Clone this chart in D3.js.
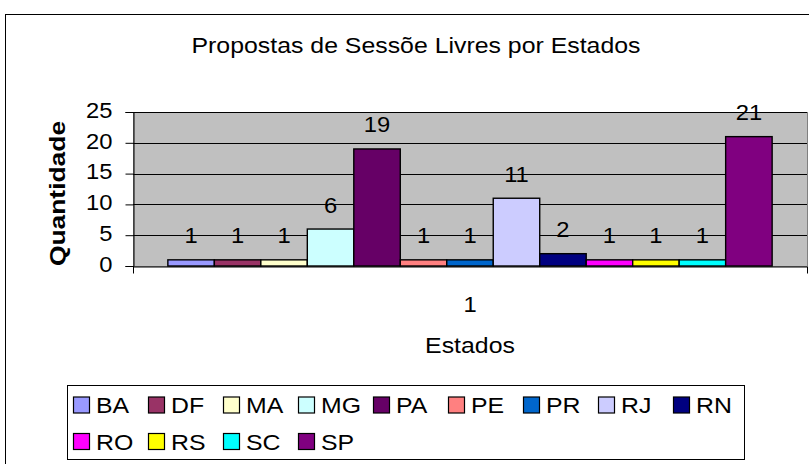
<!DOCTYPE html>
<html>
<head>
<meta charset="utf-8">
<script src="https://cdn.jsdelivr.net/npm/d3@7"></script>
<style>
  body { margin: 0; background: #fff; }
  svg { display: block; }
  text { font-family: "Liberation Sans", Arial, sans-serif; fill: #000; }
</style>
</head>
<body>
<svg id="chart"></svg>
<script>
// data
const categories = ['1']
const states = ['BA', 'DF', 'MA', 'MG', 'PA', 'PE', 'PR', 'RJ', 'RN', 'RO', 'RS', 'SC', 'SP']
const values = [1, 1, 1, 6, 19, 1, 1, 11, 2, 1, 1, 1, 21]
const colors = ['#9999FF', '#993366', '#FFFFCC', '#CCFFFF', '#660066', '#FF8080', '#0066CC',
                '#CCCCFF', '#000080', '#FF00FF', '#FFFF00', '#00FFFF', '#800080']
const yTicks = [0, 5, 10, 15, 20, 25]

const width = 809
const height = 464
const SX = 1.13   // words in the original are a bit wider than plain Arial
const SXN = 1.08  // digits
const plot = { left: 133, right: 807, top: 112, bottom: 266 }

const svg = d3.select('#chart')
    .attr('width', width)
    .attr('height', height)

// outer chart frame (runs off the right and bottom edge)
svg.append('rect')
    .attr('x', 5.5).attr('y', 14.5)
    .attr('width', 830).attr('height', 470)
    .attr('fill', '#fff')
    .attr('stroke', '#000')

const stretched = (sel, x, y, rot = 0, sx = SX) =>
    sel.attr('transform', `translate(${x},${y}) rotate(${rot}) scale(${sx},1)`)

svg.append('text')
    .text('Propostas de Sessõe Livres por Estados')
    .attr('text-anchor', 'middle')
    .attr('font-size', '22px')
    .call(stretched, 416, 53)

// scales
const x0 = d3.scaleBand()
    .domain(categories)
    .range([plot.left, plot.right])
// excel gap width 150% -> group takes 13/(13+1.5) of the category
const groupW = (plot.right - plot.left) * 13 / 14.5
const groupX = plot.left + ((plot.right - plot.left) - groupW) / 2
const x1 = d3.scaleBand()
    .domain(states)
    .range([groupX, groupX + groupW])

const y = d3.scaleLinear()
    .domain([0, 25])
    .range([plot.bottom, plot.top])

// plot area
svg.append('rect')
    .attr('x', plot.left).attr('y', plot.top)
    .attr('width', plot.right - plot.left)
    .attr('height', plot.bottom - plot.top)
    .attr('fill', '#C0C0C0')
    .attr('stroke', '#808080')
    .attr('shape-rendering', 'crispEdges')

svg.append('g')
    .selectAll('line')
    .data(yTicks.filter(d => d > 0))
    .enter().append('line')
    .attr('x1', plot.left).attr('x2', plot.right)
    .attr('y1', d => Math.round(y(d)) + 0.5)
    .attr('y2', d => Math.round(y(d)) + 0.5)
    .attr('stroke', '#000')

// bars
svg.append('g')
    .selectAll('rect')
    .data(states)
    .enter().append('rect')
    .attr('x', d => x1(d))
    .attr('y', (d, i) => y(values[i]))
    .attr('width', x1.bandwidth())
    .attr('height', (d, i) => plot.bottom - y(values[i]))
    .attr('fill', (d, i) => colors[i])
    .attr('stroke', '#000')
    .attr('stroke-width', 1.4)

// value labels
svg.append('g')
    .selectAll('text')
    .data(states)
    .enter().append('text')
    .text((d, i) => values[i])
    .attr('text-anchor', 'middle')
    .attr('font-size', '22px')
    .each(function (d, i) {
        d3.select(this).call(stretched, x1(d) + x1.bandwidth() / 2, y(values[i]) - 16.5, 0, SXN)
    })

// y axis
const yAxis = svg.append('g')
    .attr('transform', `translate(${plot.left + 0.5},0)`)
    .call(d3.axisLeft(y).tickValues(yTicks).tickSize(8).tickPadding(13))
yAxis.select('.domain').attr('stroke', '#000')
yAxis.selectAll('.tick line').attr('stroke', '#000')
yAxis.selectAll('.tick text')
    .attr('font-size', '22px')
    .attr('font-family', '"Liberation Sans", Arial, sans-serif')
    .attr('x', -21 / SXN)
    .attr('dy', '0.24em')
    .attr('transform', `scale(${SXN},1)`)

// x axis
const xAxis = svg.append('g')
    .attr('transform', `translate(0,${plot.bottom + 0.5})`)
    .call(d3.axisBottom(x0).tickSizeInner(0).tickSizeOuter(7).tickPadding(30))
xAxis.select('.domain').attr('stroke', '#000')
xAxis.selectAll('.tick text')
    .attr('font-size', '22px')
    .attr('font-family', '"Liberation Sans", Arial, sans-serif')
    .attr('transform', `scale(${SXN},1)`)

svg.append('text')
    .text('Estados')
    .attr('text-anchor', 'middle')
    .attr('font-size', '22px')
    .call(stretched, (plot.left + plot.right) / 2, 353)

svg.append('text')
    .text('Quantidade')
    .attr('text-anchor', 'middle')
    .attr('font-size', '22px')
    .attr('font-weight', 'bold')
    .call(stretched, 65, 193.5, -90, 1.2)

// legend
const legend = svg.append('g')
svg.append('rect')
    .attr('x', 67.5).attr('y', 385.5)
    .attr('width', 677).attr('height', 74)
    .attr('fill', 'none')
    .attr('stroke', '#000')

const perRow = 9
const item = legend.selectAll('g')
    .data(states)
    .enter().append('g')
    .attr('transform', (d, i) => `translate(${73.5 + (i % perRow) * 75},${397 + Math.floor(i / perRow) * 36.5})`)

item.append('rect')
    .attr('width', 16).attr('height', 16)
    .attr('fill', (d, i) => colors[i])
    .attr('stroke', '#000')
    .attr('stroke-width', 1.2)

item.append('text')
    .text(d => d)
    .attr('font-size', '22px')
    .attr('transform', `translate(22.5,16) scale(${SX},1)`)
</script>
</body>
</html>
